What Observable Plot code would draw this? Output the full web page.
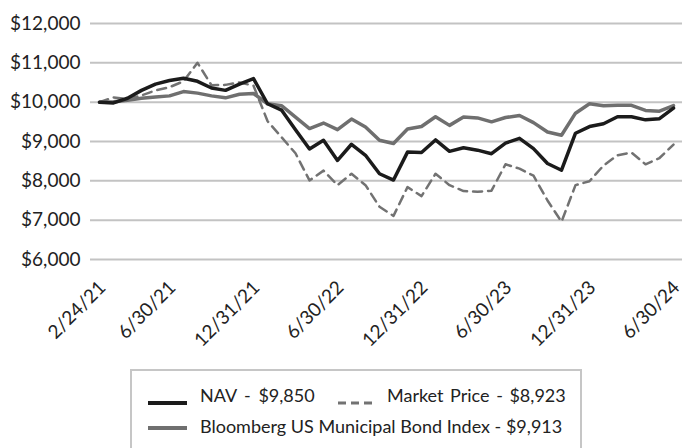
<!DOCTYPE html>
<html><head><meta charset="utf-8">
<script src="https://cdn.jsdelivr.net/npm/d3@7"></script>
<script src="https://cdn.jsdelivr.net/npm/@observablehq/plot@0.6"></script>
<style>
html,body{margin:0;padding:0;overflow:hidden;background:#fff;}
#wrap{position:relative;width:685px;height:448px;overflow:hidden;}
#wrap svg{display:block;}
</style></head><body><div id="wrap"></div>
<script>
const dates = ["2/24/21","2/28/21","3/31/21","4/30/21","5/31/21","6/30/21","7/31/21","8/31/21","9/30/21","10/31/21","11/30/21","12/31/21",
  "1/31/22","2/28/22","3/31/22","4/30/22","5/31/22","6/30/22","7/31/22","8/31/22","9/30/22","10/31/22","11/30/22","12/31/22",
  "1/31/23","2/28/23","3/31/23","4/30/23","5/31/23","6/30/23","7/31/23","8/31/23","9/30/23","10/31/23","11/30/23","12/31/23",
  "1/31/24","2/29/24","3/31/24","4/30/24","5/31/24","6/30/24"];
const nav = [10000,9980,10100,10300,10460,10550,10610,10530,10360,10300,10460,10600,
  9960,9800,9300,8810,9030,8520,8930,8650,8180,8020,8730,8720,
  9040,8750,8840,8780,8690,8960,9080,8820,8440,8270,9210,9380,
  9450,9630,9630,9550,9580,9850];
const market = [10000,10120,10080,10170,10300,10380,10530,11000,10430,10440,10500,10420,
  9520,9110,8700,8010,8260,7890,8180,7890,7340,7110,7840,7610,
  8180,7890,7740,7720,7750,8420,8310,8130,7500,6960,7890,7990,
  8390,8650,8720,8420,8580,8923];
const bloomberg = [10000,10010,10050,10100,10130,10160,10270,10230,10160,10110,10200,10220,
  9960,9910,9620,9330,9470,9300,9570,9370,9030,8950,9320,9380,
  9630,9410,9620,9600,9500,9610,9660,9480,9240,9160,9720,9960,
  9910,9920,9920,9790,9770,9913];
const tickLabels = ["2/24/21","6/30/21","12/31/21","6/30/22","12/31/22","6/30/23","12/31/23","6/30/24"];
const yTicks = [6000,7000,8000,9000,10000,11000,12000];
const legendLabels = ["NAV - $9,850","Market Price - $8,923","Bloomberg US Municipal Bond Index - $9,913"];
const colors = {nav:"#1b1b1b", market:"#727272", bloomberg:"#6f6f6f"};

const rows = dates.map((d,i)=>({date:d, nav:nav[i], market:market[i], bloomberg:bloomberg[i]}));

const chart = Plot.plot({
  width:685, height:369, marginLeft:90, marginRight:3, marginTop:23, marginBottom:110,
  style:{fontFamily:"Lato", fontSize:"19px", color:"#222", background:"#fff", overflow:"visible"},
  x:{type:"point", domain:dates, padding:0},
  y:{domain:[6000,12000]},
  marks:[
    Plot.gridY(yTicks, {stroke:"#c3c3c3", strokeOpacity:1, strokeWidth:2}),
    Plot.axisY(yTicks, {tickSize:0, tickPadding:10, tickFormat:d=>"$"+d3.format(",")(d), fontSize:19, label:null}),
    Plot.axisX(tickLabels, {tickSize:0, tickPadding:8, tickRotate:-45, fontSize:19, dx:3, dy:17, label:null}),
    Plot.line(rows,{x:"date",y:"bloomberg",stroke:colors.bloomberg,strokeWidth:3.5}),
    Plot.line(rows,{x:"date",y:"market",stroke:colors.market,strokeWidth:2.5,strokeDasharray:"9,6"}),
    Plot.line(rows,{x:"date",y:"nav",stroke:colors.nav,strokeWidth:3.5})
  ]
});
const wrap = document.getElementById("wrap");
wrap.appendChild(chart);

// legend below the chart
const lg = d3.select(wrap).append("svg").attr("width",685).attr("height",79)
  .style("font-family","Lato").style("font-size","18px");
lg.append("rect").attr("x",131).attr("y",1).attr("width",450).attr("height",140)
  .attr("fill","none").attr("stroke","#c6c6c6").attr("stroke-width",2);
const items = [
  {x:148, y:34, tx:200, ty:33, label:legendLabels[0], color:colors.nav, dash:null, w:4, ws:3},
  {x:338, y:34, tx:387, ty:33, label:legendLabels[1], color:colors.market, dash:"8,5", w:3, ws:2},
  {x:148, y:59, tx:200, ty:64, label:legendLabels[2], color:colors.bloomberg, dash:null, w:4, ws:0}
];
items.forEach(it=>{
  lg.append("line").attr("x1",it.x).attr("x2",it.x+39).attr("y1",it.y).attr("y2",it.y)
    .attr("stroke",it.color).attr("stroke-width",it.w).attr("stroke-dasharray",it.dash);
  lg.append("text").attr("x",it.tx).attr("y",it.ty).attr("fill","#222")
    .style("word-spacing",it.ws+"px").text(it.label);
});
</script></body></html>
